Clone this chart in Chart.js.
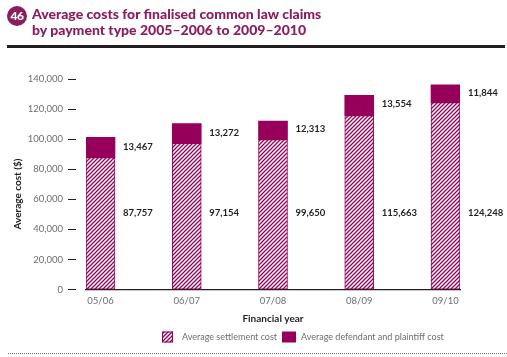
<!DOCTYPE html>
<html>
<head>
<meta charset="utf-8">
<script src="https://cdn.jsdelivr.net/npm/chart.js@4/dist/chart.umd.min.js"></script>
<style>
  html, body { margin: 0; padding: 0; background: #fff; }
  #wrap { position: relative; width: 507px; height: 357px; overflow: hidden; }
  #c { position: absolute; left: 0; top: 0; }
  #badge { position: absolute; left: 7px; top: 6px; width: 20px; height: 20px; border-radius: 50%;
           background: #8c1d5e; color: #fff; font: 900 12px Lato, sans-serif; text-align: center; line-height: 20px; letter-spacing: -0.5px; }
  #title { position: absolute; left: 32px; top: 6px; color: #8c1d5e; font: 900 14px Lato, sans-serif; line-height: 16px; white-space: nowrap; }
  #rule { position: absolute; left: 7px; top: 45px; width: 498px; height: 3px; background: #231f20; }
  #dots { position: absolute; left: 8px; top: 353px; width: 499px; border-top: 1px dotted #777; }
</style>
</head>
<body>
<div id="wrap">
  <canvas id="c" width="507" height="357"></canvas>
  <div id="badge">46</div>
  <div id="title">Average costs for finalised common law claims<br>by payment type 2005–2006 to 2009–2010</div>
  <div id="rule"></div>
  <div id="dots"></div>
</div>
<script>
const categories = ['05/06', '06/07', '07/08', '08/09', '09/10'];
const settlementCost = [87757, 97154, 99650, 115663, 124248];
const defendantPlaintiffCost = [13467, 13272, 12313, 13554, 11844];
const yTicks = [0, 20000, 40000, 60000, 80000, 100000, 120000, 140000];
const seriesNames = ['Average settlement cost', 'Average defendant and plaintiff cost'];
const axisTitles = { x: 'Financial year', y: 'Average cost ($)' };

const MAGENTA = '#96005a';
const DARK = '#231f20';
const GREY = '#6d6e71';
const FONT = 'Lato, "Open Sans", sans-serif';

function hatch() {
  const p = document.createElement('canvas');
  p.width = 4; p.height = 4;
  const g = p.getContext('2d');
  g.fillStyle = '#fff'; g.fillRect(0, 0, 4, 4);
  g.strokeStyle = MAGENTA; g.lineWidth = 1.3;
  g.beginPath();
  g.moveTo(-1, 5); g.lineTo(5, -1);
  g.moveTo(-1, 1); g.lineTo(1, -1);
  g.moveTo(3, 5); g.lineTo(5, 3);
  g.stroke();
  return document.getElementById('c').getContext('2d').createPattern(p, 'repeat');
}
const hatchPattern = hatch();

const fmt = v => v.toLocaleString('en-US');

const overlay = {
  id: 'overlay',
  afterDatasetsDraw(chart) {
    const ctx = chart.ctx;
    const y = chart.scales.y;
    const m0 = chart.getDatasetMeta(0);
    ctx.save();
    ctx.fillStyle = DARK;
    ctx.font = 'bold 9.5px ' + FONT;
    ctx.textAlign = 'left';
    ctx.textBaseline = 'middle';
    categories.forEach((c, i) => {
      const b = m0.data[i];
      const x = b.x + b.width / 2 + 8;
      const s = settlementCost[i], d = defendantPlaintiffCost[i];
      ctx.fillText(fmt(d), x, (y.getPixelForValue(s) + y.getPixelForValue(s + d)) / 2 - 1);
      ctx.fillText(fmt(s), x, y.getPixelForValue(50700));
    });
    // y axis title
    ctx.save();
    ctx.translate(18, 194);
    ctx.rotate(-Math.PI / 2);
    ctx.textAlign = 'center';
    ctx.font = 'bold 10px ' + FONT;
    ctx.fillText(axisTitles.y, 0, 0);
    ctx.restore();
    // legend
    const ly = 337;
    let lx = 162;
    ctx.font = '9px ' + FONT;
    ctx.fillStyle = hatchPattern;
    ctx.fillRect(lx, ly - 5.5, 11, 11);
    ctx.strokeStyle = MAGENTA; ctx.lineWidth = 1;
    ctx.strokeRect(lx + 0.5, ly - 5, 10, 10);
    lx += 20;
    ctx.fillStyle = GREY;
    ctx.fillText(seriesNames[0], lx, ly);
    lx = 282;
    ctx.fillStyle = MAGENTA;
    ctx.fillRect(lx, ly - 5.5, 14, 11);
    lx += 19;
    ctx.fillStyle = GREY;
    ctx.fillText(seriesNames[1], lx, ly);
    ctx.restore();
  }
};

new Chart(document.getElementById('c'), {
  type: 'bar',
  data: {
    datasets: [
      {
        label: seriesNames[0],
        data: settlementCost.map((v, i) => ({ x: i, y: v })),
        backgroundColor: hatchPattern,
        borderColor: MAGENTA,
        borderWidth: 1,
        borderSkipped: false,
        barThickness: 29
      },
      {
        label: seriesNames[1],
        data: defendantPlaintiffCost.map((v, i) => ({ x: i, y: v })),
        backgroundColor: MAGENTA,
        borderColor: MAGENTA,
        borderWidth: 0,
        barThickness: 29
      }
    ]
  },
  options: {
    responsive: false,
    animation: false,
    devicePixelRatio: 1,
    layout: { padding: { left: 0, right: 47, top: 79, bottom: 32 } },
    plugins: { legend: { display: false }, tooltip: { enabled: false } },
    scales: {
      x: {
        type: 'linear',
        stacked: true,
        offset: false,
        min: -0.168,
        max: 4.168,
        afterBuildTicks: s => { s.ticks = categories.map((c, i) => ({ value: i })); },
        ticks: { callback: v => categories[v], color: GREY, font: { family: FONT, size: 9.5 }, padding: 6, autoSkip: false, maxRotation: 0 },
        grid: { display: false, drawTicks: false, offset: false },
        border: { display: true, color: DARK, width: 1.3 },
        title: { display: true, text: axisTitles.x, color: DARK, font: { family: FONT, size: 10, weight: 'bold' }, padding: { top: 0, bottom: 0 } }
      },
      y: {
        stacked: true,
        min: 0,
        max: 140000,
        afterBuildTicks: s => { s.ticks = yTicks.map(v => ({ value: v })); },
        afterFit: s => { s.width = 86; },
        ticks: { callback: v => fmt(v), color: GREY, font: { family: FONT, size: 9.5 }, padding: 5 },
        grid: { drawOnChartArea: false, drawTicks: true, tickLength: 18, tickBorderDash: [8, 10], tickColor: DARK, tickWidth: 1 },
        border: { display: false }
      }
    }
  },
  plugins: [overlay]
});
</script>
</body>
</html>
